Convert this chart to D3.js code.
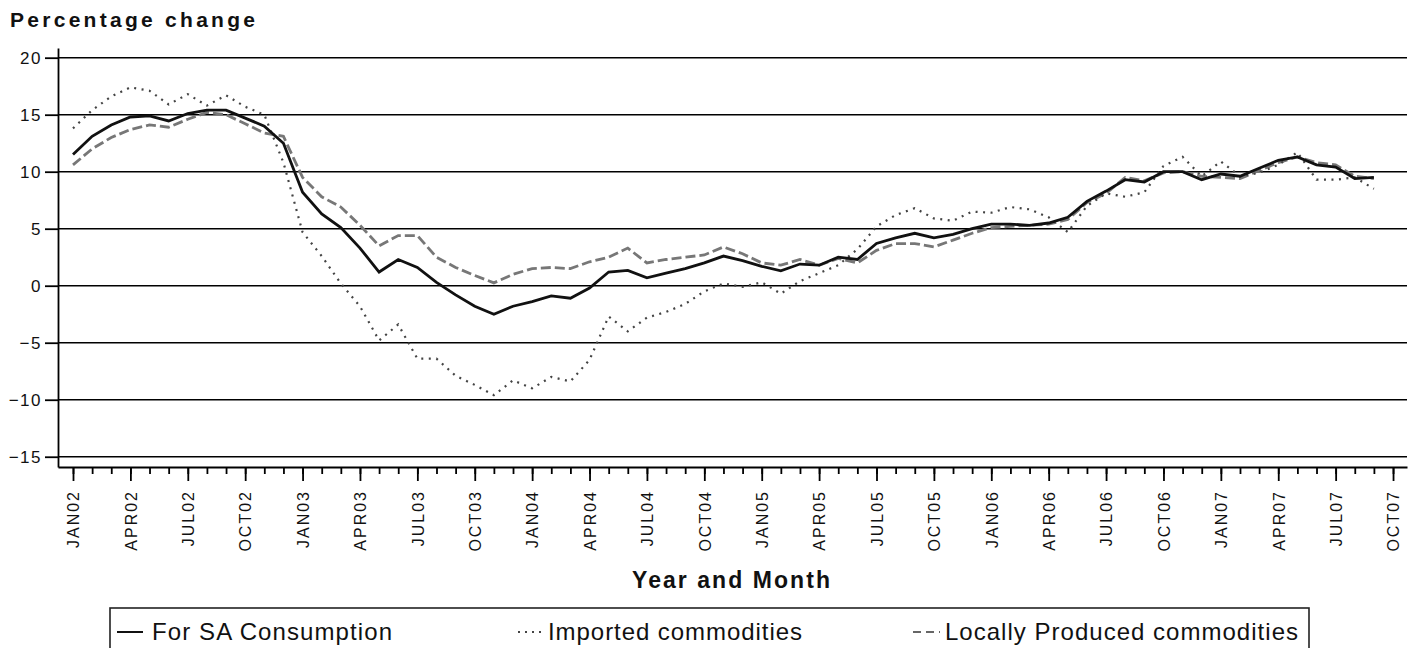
<!DOCTYPE html>
<meta charset="utf-8">
<html>
<head>
<style>
  body { margin: 0; background: #fff; }
  svg text { font-family: "Liberation Sans", Arial, sans-serif; }
</style>
</head>
<body>
<div id="chart"></div>
<script src="https://d3js.org/d3.v7.min.js"></script>
<script>

  // monthly values, JAN02 .. SEP07
  var forSA = [11.5,13.1,14.1,14.8,14.9,14.45,15.1,15.4,15.4,14.7,14.0,12.5,8.2,6.3,5.1,3.3,1.2,2.3,1.6,0.3,-0.8,-1.8,-2.5,-1.8,-1.4,-0.9,-1.1,-0.2,1.2,1.35,0.7,1.1,1.5,2.0,2.6,2.2,1.7,1.3,1.9,1.8,2.5,2.3,3.7,4.2,4.6,4.2,4.5,5.0,5.4,5.4,5.3,5.5,6.0,7.4,8.3,9.3,9.1,10.0,10.0,9.3,9.8,9.6,10.3,11.0,11.3,10.6,10.4,9.4,9.5];
  var imported = [13.8,15.4,16.6,17.4,17.1,15.9,16.8,15.8,16.7,15.7,15.0,10.8,4.7,2.6,0.2,-1.8,-4.8,-3.4,-6.4,-6.4,-7.9,-8.7,-9.6,-8.3,-9.0,-8.0,-8.4,-6.5,-2.7,-4.0,-2.8,-2.3,-1.6,-0.5,0.2,-0.1,0.3,-0.7,0.4,1.1,1.8,3.2,5.2,6.2,6.8,5.9,5.7,6.5,6.4,6.9,6.7,6.0,4.7,7.0,8.1,7.8,8.2,10.5,11.3,9.6,10.9,9.6,9.9,10.6,11.7,9.3,9.3,9.5,8.5];
  var local = [10.6,12.0,13.0,13.7,14.1,13.9,14.6,15.2,15.0,14.2,13.4,13.1,9.5,7.8,6.9,5.3,3.5,4.4,4.4,2.5,1.6,0.9,0.25,1.0,1.5,1.6,1.5,2.1,2.5,3.3,2.0,2.3,2.5,2.7,3.4,2.8,2.0,1.8,2.3,1.8,2.4,2.0,3.1,3.7,3.7,3.4,4.0,4.6,5.1,5.2,5.3,5.4,5.8,7.3,8.1,9.5,9.2,9.9,10.0,9.6,9.5,9.4,10.1,10.8,11.3,10.8,10.6,9.6,9.4];

  var tickLabels = ["JAN02","APR02","JUL02","OCT02","JAN03","APR03","JUL03","OCT03",
                    "JAN04","APR04","JUL04","OCT04","JAN05","APR05","JUL05","OCT05",
                    "JAN06","APR06","JUL06","OCT06","JAN07","APR07","JUL07","OCT07"];
  var yTicks = [-15,-10,-5,0,5,10,15,20];
  var seriesNames = ["For SA Consumption","Imported commodities","Locally Produced commodities"];

  var W = 1418, H = 648;
  var svg = d3.select("#chart").append("svg")
      .attr("width", W).attr("height", H);

  var x = d3.scaleLinear().domain([-0.784, 69.73]).range([58, 1407]);
  var y = d3.scaleLinear().domain([-15.9, 20.85]).range([467, 48]);

  // gridlines
  svg.append("g")
    .selectAll("line")
    .data(yTicks)
    .enter().append("line")
      .attr("x1", 58).attr("x2", 1407)
      .attr("y1", function(d) { return y(d); })
      .attr("y2", function(d) { return y(d); })
      .attr("stroke", "#000").attr("stroke-width", 1.6);

  // y axis
  var yAxis = svg.append("g")
      .attr("transform", "translate(58,0)")
      .call(d3.axisLeft(y).tickValues(yTicks).tickSizeInner(13).tickSizeOuter(0).tickPadding(3));
  yAxis.selectAll("path, line").attr("stroke", "#000").attr("stroke-width", 1.8);
  yAxis.selectAll("text")
      .attr("fill", "#111")
      .style("font-size", "17px")
      .style("letter-spacing", "1.5px");

  // x axis: monthly minor ticks, quarterly major ticks with labels
  var xMinor = svg.append("g")
      .attr("transform", "translate(0,467)")
      .call(d3.axisBottom(x).tickValues(d3.range(0, 70)).tickSizeInner(7).tickSizeOuter(0).tickFormat(""));
  xMinor.selectAll("path, line").attr("stroke", "#000").attr("stroke-width", 1.8);

  var xMajor = svg.append("g")
      .attr("transform", "translate(0,467)")
      .call(d3.axisBottom(x).tickValues(d3.range(0, 70, 3)).tickSizeInner(14).tickSizeOuter(0)
        .tickFormat(function(d, i) { return tickLabels[i]; }));
  xMajor.select(".domain").remove();
  xMajor.selectAll("line").attr("stroke", "#000").attr("stroke-width", 1.8);
  xMajor.selectAll("text")
      .attr("fill", "#111")
      .attr("y", 0).attr("x", 0)
      .attr("dy", "0.36em")
      .attr("transform", "translate(0,23) rotate(-90)")
      .attr("text-anchor", "end")
      .style("font-size", "16px")
      .style("letter-spacing", "2px");

  // lines
  var line = function(vals) {
    return d3.line()
      .x(function(d, i) { return x(i); })
      .y(function(d) { return y(d); })(vals);
  };

  svg.append("path")
      .attr("d", line(local))
      .attr("fill", "none")
      .attr("stroke", "#777")
      .attr("stroke-width", 2.8)
      .attr("stroke-dasharray", "10,4");

  svg.append("path")
      .attr("d", line(imported))
      .attr("fill", "none")
      .attr("stroke", "#444")
      .attr("stroke-width", 2.2)
      .attr("stroke-dasharray", "2,5.5");

  svg.append("path")
      .attr("d", line(forSA))
      .attr("fill", "none")
      .attr("stroke", "#111")
      .attr("stroke-width", 2.8);

  // titles
  svg.append("text")
      .attr("x", 10).attr("y", 27)
      .attr("textLength", 245).attr("lengthAdjust", "spacing")
      .style("font-size", "21px").style("font-weight", "bold")
      .attr("fill", "#111")
      .text("Percentage change");

  svg.append("text")
      .attr("x", 632).attr("y", 588)
      .attr("textLength", 198).attr("lengthAdjust", "spacing")
      .style("font-size", "23px").style("font-weight", "bold")
      .attr("fill", "#111")
      .text("Year and Month");

  // legend
  svg.append("rect")
      .attr("x", 110).attr("y", 608)
      .attr("width", 1199).attr("height", 70)
      .attr("fill", "none").attr("stroke", "#222").attr("stroke-width", 1.6);

  var legendItems = [
    { name: seriesNames[0], x1: 117, x2: 143, tx: 152, tl: 240, stroke: "#111", dash: null, w: 2 },
    { name: seriesNames[1], x1: 518, x2: 542, tx: 548, tl: 254, stroke: "#444", dash: "2,5", w: 2 },
    { name: seriesNames[2], x1: 913, x2: 940, tx: 945, tl: 353, stroke: "#666", dash: "8,5", w: 2 }
  ];
  var lg = svg.append("g");
  lg.selectAll("line")
    .data(legendItems)
    .enter().append("line")
      .attr("x1", function(d) { return d.x1; })
      .attr("x2", function(d) { return d.x2; })
      .attr("y1", 632).attr("y2", 632)
      .attr("stroke", function(d) { return d.stroke; })
      .attr("stroke-width", function(d) { return d.w; })
      .attr("stroke-dasharray", function(d) { return d.dash; });
  lg.selectAll("text")
    .data(legendItems)
    .enter().append("text")
      .attr("x", function(d) { return d.tx; })
      .attr("y", 640)
      .attr("textLength", function(d) { return d.tl; })
      .attr("lengthAdjust", "spacing")
      .style("font-size", "24px")
      .attr("fill", "#111")
      .text(function(d) { return d.name; });

</script>
</body>
</html>
